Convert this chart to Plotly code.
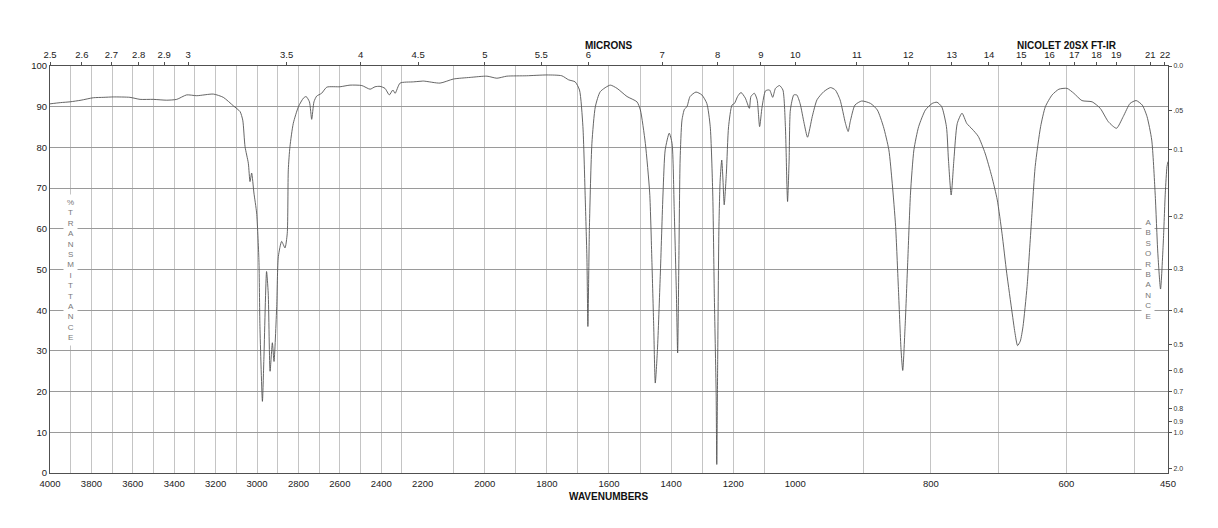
import plotly.graph_objects as go

# ---------------- data ----------------
wavenumbers = [
    4000, 3950, 3903, 3850, 3791, 3740, 3694, 3614, 3565, 3501, 3436, 3388, 3340, 3291, 3211,
    3163, 3114, 3082, 3069, 3058, 3042, 3034, 3026, 3015, 3002, 2991, 2986, 2974, 2967, 2954,
    2946, 2937, 2926, 2918, 2905, 2897, 2881, 2865, 2854, 2849, 2841, 2825, 2800, 2776, 2763,
    2747, 2736, 2725, 2712, 2688, 2663, 2599, 2551, 2494, 2454, 2430, 2406, 2382, 2361, 2344,
    2333, 2309, 2245, 2198, 2144, 2101, 2047, 1993, 1961, 1929, 1865, 1800, 1752, 1730, 1709,
    1695, 1684, 1677, 1671, 1668, 1663, 1655, 1644, 1628, 1596, 1574, 1542, 1510, 1499, 1483,
    1469, 1462, 1456, 1451, 1444, 1435, 1426, 1419, 1406, 1397, 1390, 1383, 1379, 1375, 1371,
    1365, 1357, 1349, 1339, 1320, 1301, 1285, 1274, 1266, 1261, 1255, 1253, 1250, 1246, 1242,
    1237, 1233, 1229, 1222, 1215, 1204, 1196, 1186, 1175, 1161, 1148, 1143, 1132, 1123, 1115,
    1107, 1096, 1083, 1073, 1064, 1051, 1040, 1032, 1027, 1025, 1020, 1016, 1005, 998, 993,
    987, 982, 975, 968, 958, 948, 941, 934, 926, 922, 919, 912, 902, 889, 879,
    870, 862, 857, 852, 848, 844, 841.5, 838, 834, 830, 825, 818, 808, 798, 791,
    784, 777, 774, 770, 766, 761, 754, 747, 739, 730, 720, 710, 702, 695, 688,
    680, 676, 672, 668, 664, 658, 652, 646, 638, 631, 621, 611, 599, 589, 577,
    562, 550, 538, 526, 516, 506, 497, 488, 481, 474, 469, 465, 461, 457, 454,
    451.5, 450,
]
transmittance = [
    90.7, 91.0, 91.2, 91.6, 92.2, 92.3, 92.4, 92.3, 91.8, 91.8, 91.6, 91.8, 92.9, 92.7, 93.1,
    92.3, 90.2, 88.8, 86.7, 80.2, 76.1, 71.6, 73.7, 68.8, 63.9, 52.4, 36.0, 17.6, 27.9, 49.5,
    44.2, 25.0, 32.0, 27.4, 40.9, 53.2, 56.9, 55.3, 58.9, 74.5, 80.2, 85.9, 90.0, 92.1, 92.5,
    91.2, 86.9, 91.2, 92.6, 93.3, 94.8, 94.9, 95.3, 95.2, 94.3, 94.9, 95.0, 94.5, 92.9, 94.1,
    93.3, 95.8, 96.1, 96.3, 95.8, 96.8, 97.2, 97.5, 97.0, 97.5, 97.6, 97.8, 97.6, 96.6, 96.1,
    94.1, 85.1, 68.8, 52.4, 36.0, 60.6, 81.0, 90.0, 93.7, 95.3, 94.5, 92.5, 91.2, 89.2, 81.0,
    68.8, 52.4, 36.0, 22.1, 30.3, 48.3, 68.8, 79.4, 83.5, 81.0, 64.7, 44.2, 29.5, 52.4, 76.9,
    86.7, 89.4, 90.0, 92.5, 93.6, 92.9, 90.8, 85.1, 68.8, 44.2, 19.7, 2.1, 27.9, 60.6, 72.0,
    76.9, 72.0, 65.9, 73.7, 85.1, 90.4, 90.8, 92.5, 93.5, 92.1, 89.6, 92.5, 93.3, 91.7, 85.1,
    90.0, 93.9, 94.1, 92.3, 94.5, 95.2, 94.1, 85.1, 70.4, 66.7, 76.9, 89.2, 92.9, 92.9, 90.8,
    85.9, 82.5, 87.6, 91.7, 93.7, 94.7, 94.1, 91.7, 85.9, 83.9, 86.3, 90.4, 91.4, 90.8, 89.2,
    85.1, 79.4, 71.2, 60.6, 45.8, 30.3, 25.2, 36.0, 52.4, 68.8, 79.4, 85.1, 89.2, 90.8, 91.1,
    90.0, 85.1, 76.9, 68.3, 76.9, 85.9, 88.4, 85.9, 84.5, 82.7, 78.6, 72.8, 67.1, 58.9, 49.1,
    39.3, 34.6, 31.3, 32.4, 36.0, 45.8, 60.6, 75.3, 85.1, 90.0, 92.9, 94.3, 94.5, 93.3, 91.5,
    91.2, 89.6, 86.3, 84.7, 87.6, 90.8, 91.5, 90.4, 87.6, 81.8, 68.8, 54.0, 45.2, 56.5, 68.8,
    75.3, 76.5,
]

# three equal-width panels with different wavenumber scales
segment_ranges = [(4000, 2200), (2200, 1000), (1000, 450)]

# bottom wavenumber grid / labels per panel
wn_grid = [
    list(range(4000, 2199, -100)),
    list(range(2200, 999, -100)),
    list(range(1000, 499, -100)) + [450],
]
wn_labels = [
    [str(v) if v % 200 == 0 and v != 2200 else "" for v in wn_grid[0]],
    [str(v) if v % 200 == 0 else "" for v in wn_grid[1]],
    [str(v) if v in (800, 600, 450) else "" for v in wn_grid[2]],
]

# top micron labels per panel
micron_labels = [
    ["2.5", "2.6", "2.7", "2.8", "2.9", "3", "3.5", "4", "4.5"],
    ["5", "5.5", "6", "7", "8", "9", "10"],
    ["11", "12", "13", "14", "15", "16", "17", "18", "19", "21", "22"],
]

# right-hand absorbance scale
absorbance_labels = ["0.0", ".05", "0.1", "0.2", "0.3", "0.4", "0.5", "0.6",
                     "0.7", "0.8", "0.9", "1.0", "2.0"]

y_ticks = list(range(0, 101, 10))

# ---------------- figure ----------------
FONT = "Liberation Sans, Arial, Helvetica, sans-serif"
AXIS_COLOR = "#505050"
HGRID = "#9a9a9a"
VGRID = "#c4c4c4"
LINE_COLOR = "#555555"

fig = go.Figure()

n = len(wavenumbers)
axis_ids = ["", "2", "3"]
for k, (hi, lo) in enumerate(segment_ranges):
    idx = [i for i in range(n) if lo <= wavenumbers[i] <= hi]
    i0 = max(idx[0] - 1, 0)
    i1 = min(idx[-1] + 1, n - 1)
    fig.add_trace(go.Scatter(
        x=wavenumbers[i0:i1 + 1], y=transmittance[i0:i1 + 1],
        mode="lines", line=dict(color=LINE_COLOR, width=0.9, shape="spline", smoothing=0.6),
        xaxis="x" + axis_ids[k], yaxis="y",
        showlegend=False, hoverinfo="skip",
    ))

# invisible helper traces so the overlay axes are drawn
for k, (hi, lo) in enumerate(segment_ranges):
    fig.add_trace(go.Scatter(x=[hi, lo], y=[50, 50], mode="lines",
                             line=dict(width=0), opacity=0, xaxis="x" + str(4 + k),
                             yaxis="y", showlegend=False, hoverinfo="skip"))
fig.add_trace(go.Scatter(x=[1000, 450], y=[50, 50], mode="lines", line=dict(width=0),
                         opacity=0, xaxis="x3", yaxis="y2",
                         showlegend=False, hoverinfo="skip"))

layout = dict(
    width=1218, height=528,
    margin=dict(l=50, r=50.3, t=66, b=54.5, pad=0),
    paper_bgcolor="white", plot_bgcolor="white",
    font=dict(family=FONT, size=9.5, color="#222"),
    showlegend=False,
)

for k, (hi, lo) in enumerate(segment_ranges):
    dom = [k / 3, (k + 1) / 3]
    name = "xaxis" + axis_ids[k]
    layout[name] = dict(
        domain=dom, range=[hi, lo], anchor="y",
        tickmode="array", tickvals=wn_grid[k], ticktext=wn_labels[k],
        showgrid=True, gridcolor=VGRID, gridwidth=1,
        showline=True, linecolor=AXIS_COLOR, linewidth=1,
        ticks="", zeroline=False, ticklabelstandoff=2,
        tickfont=dict(size=9.5, color="#222"),
    )
    tv = [10000.0 / float(m) for m in micron_labels[k]]
    layout["xaxis" + str(4 + k)] = dict(
        overlaying="x" + axis_ids[k], side="top", anchor="y",
        range=[hi, lo], tickmode="array", tickvals=tv, ticktext=micron_labels[k],
        showgrid=False, showline=True, linecolor=AXIS_COLOR, linewidth=1,
        ticks="outside", ticklen=3, tickcolor=AXIS_COLOR, zeroline=False,
        tickfont=dict(size=9.5, color="#222"),
    )

layout["yaxis"] = dict(
    range=[0, 100], anchor="x", domain=[0, 1],
    tickmode="array", tickvals=y_ticks, ticktext=[str(v) for v in y_ticks],
    showgrid=True, gridcolor=HGRID, gridwidth=1,
    showline=True, linecolor=AXIS_COLOR, linewidth=1, ticks="", zeroline=False,
    tickfont=dict(size=9.5, color="#222"),
)
abs_vals = [float(s) for s in absorbance_labels]
layout["yaxis2"] = dict(
    overlaying="y", side="right", anchor="x3", range=[0, 100],
    tickmode="array", tickvals=[100 * 10 ** (-a) for a in abs_vals],
    ticktext=absorbance_labels,
    showgrid=False, showline=True, linecolor=AXIS_COLOR, linewidth=1,
    ticks="outside", ticklen=3, tickcolor=AXIS_COLOR, zeroline=False,
    tickfont=dict(size=7, color="#333"),
)

fig.update_layout(**layout)

# axis titles
fig.add_annotation(text="<b>MICRONS</b>", xref="paper", yref="paper", x=0.5, y=1.0515,
                   showarrow=False, font=dict(size=10, color="#111"), yanchor="middle")
fig.add_annotation(text="<b>NICOLET 20SX FT-IR</b>", xref="paper", yref="paper",
                   x=0.9564, y=1.0515, showarrow=False,
                   font=dict(size=10, color="#111"), yanchor="middle")
fig.add_annotation(text="<b>WAVENUMBERS</b>", xref="paper", yref="paper", x=0.5, y=-0.057,
                   showarrow=False, font=dict(size=10, color="#111"), yanchor="middle")

# stacked vertical labels
fig.add_annotation(text="<br>".join("%TRANSMITTANCE"), xref="x", yref="y", x=3900, y=50,
                   showarrow=False, font=dict(size=8, color="#777777"),
                   bgcolor="white", borderpad=3, align="center")
fig.add_annotation(text="<br>".join("ABSORBANCE"), xref="x3", yref="y", x=480, y=50,
                   showarrow=False, font=dict(size=8, color="#777777"),
                   bgcolor="white", borderpad=3, align="center")

fig.write_html("out.html")
